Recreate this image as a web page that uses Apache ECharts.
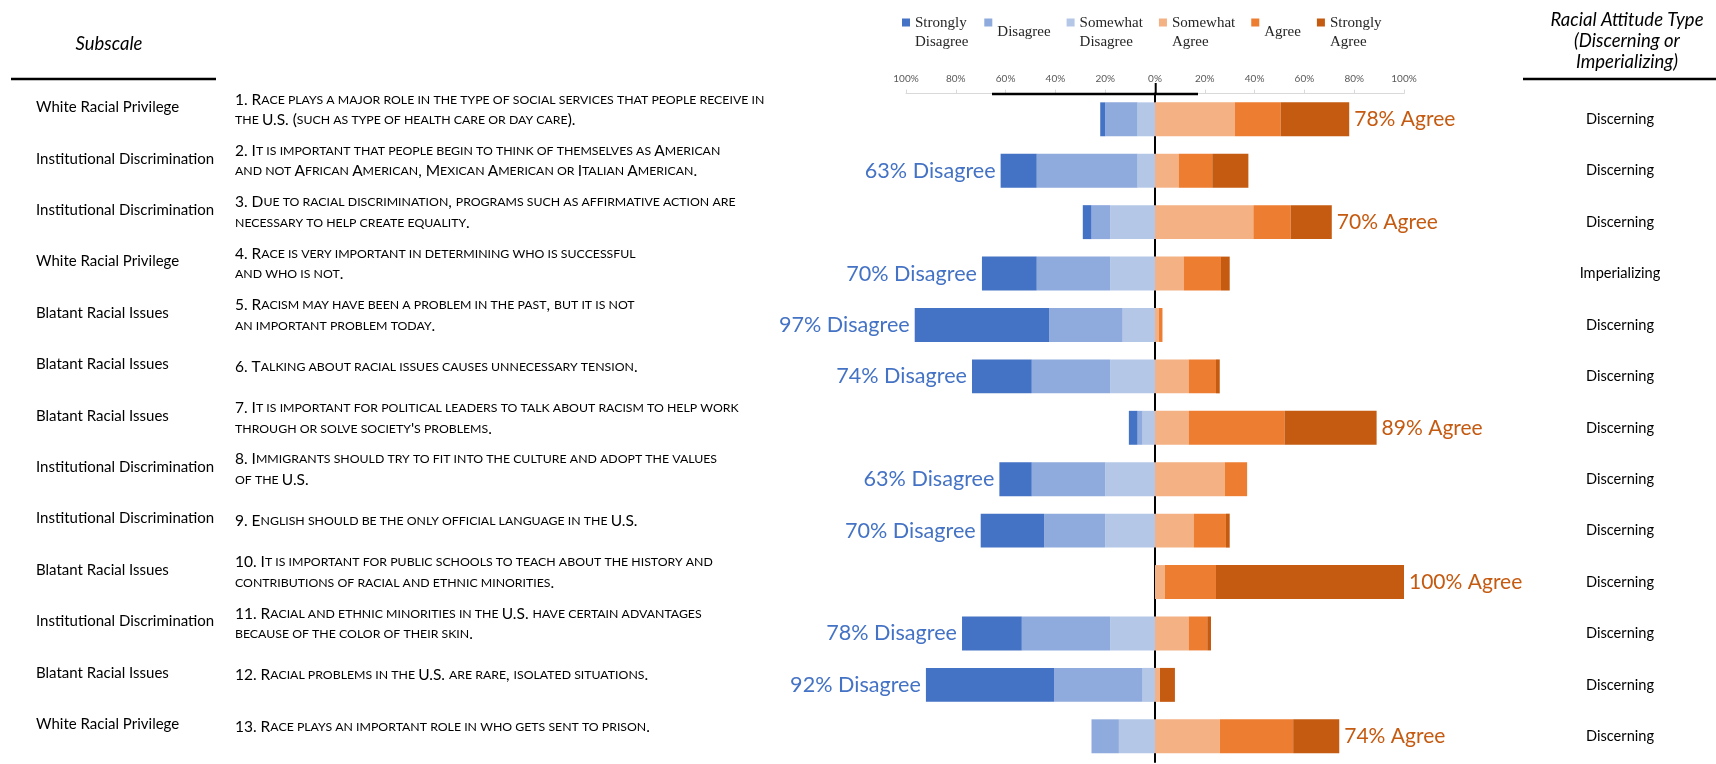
<!DOCTYPE html>
<html>
<head>
<meta charset="utf-8">
<script src="https://cdn.jsdelivr.net/npm/echarts@6.0.0/dist/echarts.min.js"></script>
<style>
  html, body { margin: 0; padding: 0; background: #fff; }
  #chart { width: 1716px; height: 764px; }
</style>
</head>
<body>
<div id="chart"></div>
<script>
// survey items, top to bottom
var items = [
  '1. Race plays a major role in the type of social services that people receive in\nthe U.S. (such as type of health care or day care).',
  '2. It is important that people begin to think of themselves as American\nand not African American, Mexican American or Italian American.',
  '3. Due to racial discrimination, programs such as affirmative action are\nnecessary to help create equality.',
  '4. Race is very important in determining who is successful\nand who is not.',
  '5. Racism may have been a problem in the past, but it is not\nan important problem today.',
  '6. Talking about racial issues causes unnecessary tension.',
  '7. It is important for political leaders to talk about racism to help work\nthrough or solve society\'s problems.',
  '8. Immigrants should try to fit into the culture and adopt the values\nof the U.S.',
  '9. English should be the only official language in the U.S.',
  '10. It is important for public schools to teach about the history and\ncontributions of racial and ethnic minorities.',
  '11. Racial and ethnic minorities in the U.S. have certain advantages\nbecause of the color of their skin.',
  '12. Racial problems in the U.S. are rare, isolated situations.',
  '13. Race plays an important role in who gets sent to prison.'
];
var subscales = [
  'White Racial Privilege', 'Institutional Discrimination', 'Institutional Discrimination',
  'White Racial Privilege', 'Blatant Racial Issues', 'Blatant Racial Issues',
  'Blatant Racial Issues', 'Institutional Discrimination', 'Institutional Discrimination',
  'Blatant Racial Issues', 'Institutional Discrimination', 'Blatant Racial Issues',
  'White Racial Privilege'
];
var attitudeTypes = [
  'Discerning', 'Discerning', 'Discerning', 'Imperializing', 'Discerning', 'Discerning',
  'Discerning', 'Discerning', 'Discerning', 'Discerning', 'Discerning', 'Discerning', 'Discerning'
];

// percentages per response
var stronglyDisagree = [2, 14.5, 3.5, 22, 54, 24, 3.5, 13, 25.5, 0, 24, 51.5, 0];
var disagree         = [13, 40.5, 7.5, 29.5, 29.5, 31.5, 2, 29.5, 24.5, 0, 35.5, 35.5, 11];
var somewhatDisagree = [7, 7, 18, 18, 13, 18, 5, 20, 20, 0, 18, 5, 14.5];
var somewhatAgree    = [32, 9.5, 39.5, 11.5, 1.5, 13.5, 13.5, 28, 15.5, 4, 13.5, 2, 26];
var agree            = [18.5, 13.5, 15, 15, 1.5, 11, 38.5, 9, 13, 20.5, 7.5, 0, 29.5];
var stronglyAgree    = [27.5, 14.5, 16.5, 3.5, 0, 1.5, 37, 0, 1.5, 75.5, 1.5, 6, 18.5];

// summary label for each item
var summaryPct  = [78, 63, 70, 70, 97, 74, 89, 63, 70, 100, 78, 92, 74];
var summarySide = ['Agree', 'Disagree', 'Agree', 'Disagree', 'Disagree', 'Disagree', 'Agree',
                   'Disagree', 'Disagree', 'Agree', 'Disagree', 'Disagree', 'Agree'];

var xTicks = [-100, 100, 20];

var SANS = 'Lato';

// fake small caps with rich text: lowercase letters become smaller capitals
function smallCaps(str) {
  return str.split('\n').map(function (line) {
    var out = '', cur = null, buf = '';
    for (var i = 0; i < line.length; i++) {
      var ch = line[i];
      var t = /[a-z]/.test(ch) ? 's' : (ch === ' ' && cur ? cur : 'u');
      if (t !== cur && buf) { out += '{' + cur + '|' + buf + '}'; buf = ''; }
      cur = t;
      buf += t === 's' ? ch.toUpperCase() : ch;
    }
    if (buf) out += '{' + cur + '|' + buf + '}';
    return out;
  }).join('\n');
}

var chart = echarts.init(document.getElementById('chart'));

var gridLeft = 906;
var gridRight = 312;

function seg(name, values, color, sign, labelSide) {
  return {
    name: name,
    type: 'bar',
    stack: 'total',
    barCategoryGap: '34%',
    itemStyle: { color: color },
    emphasis: { disabled: true },
    data: values.map(function (v, i) {
      var d = { value: sign * v };
      if (labelSide && summarySide[i] === labelSide) {
        d.label = {
          show: true,
          position: labelSide === 'Agree' ? 'right' : 'left',
          distance: 5,
          formatter: summaryPct[i] + '% ' + labelSide,
          color: labelSide === 'Agree' ? '#C55A11' : '#4472C4',
          fontFamily: SANS,
          fontSize: labelSide === 'Agree' ? 21 : 21.6
        };
      }
      return d;
    })
  };
}

chart.setOption({
  animation: false,
  grid: { left: gridLeft, right: gridRight, top: 93.6, bottom: 2 },
  legend: {
    left: 902,
    top: 13,
    padding: 0,
    itemWidth: 8,
    itemHeight: 28,
    itemGap: 16,
    // square sits at the top of a tall icon box, like the Excel legend
    icon: 'path://M0,0L8,0L8,8L0,8ZM0,27.99L0.01,27.99L0.01,28L0,28Z',
    data: ['Strongly Disagree', 'Disagree', 'Somewhat Disagree', 'Somewhat Agree', 'Agree', 'Strongly Agree'],
    formatter: function (n) { return n.replace(' ', '\n'); },
    textStyle: { fontFamily: 'Liberation Serif', fontSize: 15, lineHeight: 19.5, color: '#262626' }
  },
  xAxis: {
    type: 'value',
    position: 'top',
    min: xTicks[0],
    max: xTicks[1],
    interval: xTicks[2],
    axisLine: { show: true, lineStyle: { color: '#d9d9d9' } },
    axisTick: { show: true, length: 4, lineStyle: { color: '#d9d9d9' } },
    splitLine: { show: false },
    axisLabel: {
      margin: 10,
      fontFamily: SANS,
      fontSize: 10,
      color: '#595959',
      formatter: function (v) { return Math.abs(v) + '%'; }
    }
  },
  yAxis: [
    {
      type: 'category',
      inverse: true,
      data: items,
      axisLine: { show: true, onZero: true, lineStyle: { color: '#000', width: 2 } },
      axisTick: { show: false },
      axisLabel: { show: false }
    },
    {
      type: 'category',
      inverse: true,
      data: items,
      position: 'left',
      offset: gridLeft - 235,
      axisLine: { show: false, onZero: false },
      axisTick: { show: false },
      axisLabel: {
        interval: 0,
        margin: 0,
        align: 'left',
        padding: [0, 0, 19, 0],
        formatter: function (v) { return smallCaps(v); },
        rich: {
          u: { fontFamily: SANS, fontSize: 15.5, lineHeight: 20.5, color: '#000' },
          s: { fontFamily: SANS, fontSize: 12.3, lineHeight: 20.5, color: '#000' }
        }
      }
    },
    {
      type: 'category',
      inverse: true,
      data: subscales,
      position: 'left',
      offset: gridLeft - 36,
      axisLine: { show: false, onZero: false },
      axisTick: { show: false },
      axisLabel: {
        interval: 0, margin: 0, align: 'left',
        formatter: function (v) { return '{a|' + v + '}'; },
        rich: { a: { fontFamily: SANS, fontSize: 15, color: '#000', padding: [0, 0, 24, 0] } }
      }
    },
    {
      type: 'category',
      inverse: true,
      data: attitudeTypes,
      position: 'right',
      offset: 1620 - (1716 - gridRight),
      axisLine: { show: false, onZero: false },
      axisTick: { show: false },
      axisLabel: {
        interval: 0, margin: 0, align: 'center',
        fontFamily: SANS, fontSize: 14.6, color: '#000'
      }
    }
  ],
  graphic: [
    { type: 'line', z: 100, shape: { x1: 11, y1: 79, x2: 216, y2: 79 }, style: { stroke: '#000', lineWidth: 2.5 } },
    { type: 'line', z: 100, shape: { x1: 992, y1: 94, x2: 1198, y2: 94 }, style: { stroke: '#000', lineWidth: 2.5 } },
    { type: 'line', z: 100, shape: { x1: 1523, y1: 79, x2: 1716, y2: 79 }, style: { stroke: '#000', lineWidth: 2.5 } },
    { type: 'line', z: 100, shape: { x1: 1155.7, y1: 83, x2: 1155.7, y2: 95 }, style: { stroke: '#000', lineWidth: 2 } },
    {
      type: 'text', x: 109, y: 44,
      style: { text: 'Subscale', align: 'center', verticalAlign: 'middle', fontFamily: SANS, fontStyle: 'italic', fontSize: 18.5, fill: '#000' }
    },
    {
      type: 'text', x: 1627, y: 41.5,
      style: {
        text: 'Racial Attitude Type\n(Discerning or\nImperializing)',
        align: 'center', verticalAlign: 'middle', lineHeight: 21,
        fontFamily: SANS, fontStyle: 'italic', fontSize: 18.5, fill: '#000'
      }
    }
  ],
  series: [
    seg('Somewhat Disagree', somewhatDisagree, '#B4C7E7', -1),
    seg('Disagree', disagree, '#8FAADC', -1),
    seg('Strongly Disagree', stronglyDisagree, '#4472C4', -1, 'Disagree'),
    seg('Somewhat Agree', somewhatAgree, '#F4B183', 1),
    seg('Agree', agree, '#ED7D31', 1),
    seg('Strongly Agree', stronglyAgree, '#C55A11', 1, 'Agree')
  ]
});
</script>
</body>
</html>
